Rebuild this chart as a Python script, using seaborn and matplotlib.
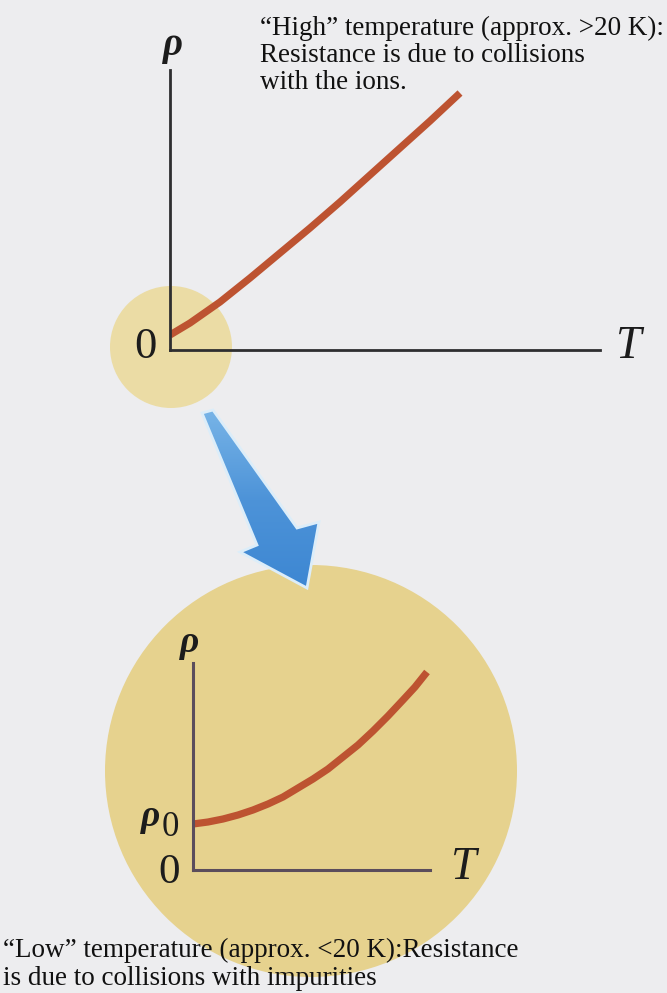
import matplotlib
matplotlib.use("Agg")
import matplotlib.pyplot as plt
from matplotlib.patches import Circle, Polygon
from matplotlib.colors import LinearSegmentedColormap
import numpy as np
import seaborn as sns
import pandas as pd

# Resistivity vs temperature, whole range (arbitrary units)
high_T = [0, 10, 20, 30, 40, 50, 60, 80, 110, 140, 170, 200, 230, 260, 290]
high_rho = [15, 21, 27, 34, 41, 48, 56, 72, 97, 122, 148, 175, 202, 229, 257]

# Low-temperature close-up: rho starts at the residual value rho_0
low_T = [0, 15, 30, 45, 60, 75, 90, 105, 120, 135, 150, 165, 180, 195, 210, 222, 234]
low_rho = [46, 48, 51, 55, 60, 66, 73, 82, 91, 101, 113, 125, 139, 154, 170, 183, 198]

top_text = ["\u201cHigh\u201d temperature (approx. >20 K):",
            "Resistance is due to collisions",
            "with the ions."]
bottom_text = ["\u201cLow\u201d temperature (approx. <20 K):Resistance",
               "is due to collisions with impurities"]

W, H = 667, 993
DPI = 100
BG = "#ededef"
CURVE = "#bd5331"
SERIF = ["Liberation Serif", "DejaVu Serif"]

sns.set_theme(style="white")
plt.rcParams["font.family"] = SERIF

fig = plt.figure(figsize=(W / DPI, H / DPI), dpi=DPI, facecolor=BG)

# Full-figure canvas in pixel units (y grows downward)
canvas = fig.add_axes([0, 0, 1, 1])
canvas.set_facecolor(BG)
canvas.axis("off")

# Highlight discs
canvas.add_patch(Circle((171, 347), 61, facecolor="#ebdca5", edgecolor="none", zorder=1))
canvas.add_patch(Circle((311, 771), 206, facecolor="#e6d28e", edgecolor="none", zorder=1))

# Zoom arrow, shaded from light at the tail to deeper blue at the head
arrow_pts = [(202, 413), (213, 410), (297, 528), (319, 522), (307, 588),
             (240, 552), (257, 545)]
clip = Polygon(arrow_pts, closed=True, transform=canvas.transData)
shade = LinearSegmentedColormap.from_list("arrow", ["#7ab6e8", "#4d93d8", "#3c86d2"])
grad = np.linspace(0, 1, 256).reshape(-1, 1)
img = canvas.imshow(grad, cmap=shade, extent=(195, 325, 595, 405), origin="upper",
                    aspect="auto", zorder=2, interpolation="bilinear")
img.set_clip_path(clip)
canvas.add_patch(Polygon(arrow_pts, closed=True, facecolor="none",
                         edgecolor="#dcedf9", linewidth=2.0, joinstyle="miter", zorder=3))

canvas.set_xlim(0, W)
canvas.set_ylim(H, 0)


def frame(left, bottom, right, top, color, lw):
    ax = fig.add_axes([left / W, 1 - bottom / H, (right - left) / W, (bottom - top) / H])
    ax.set_facecolor("none")
    ax.set_xlim(0, right - left)
    ax.set_ylim(0, bottom - top)
    for side in ("top", "right"):
        ax.spines[side].set_visible(False)
    for side in ("left", "bottom"):
        ax.spines[side].set_color(color)
        ax.spines[side].set_linewidth(lw)
    ax.set_xticks([])
    ax.set_yticks([])
    return ax


ax_top = frame(170, 350, 600, 70, "#2e2e30", 2.0)
sns.lineplot(data=pd.DataFrame({"T": high_T, "rho": high_rho}), x="T", y="rho",
             ax=ax_top, color=CURVE, linewidth=5.2, solid_capstyle="butt")
ax_top.set_xlabel("")
ax_top.set_ylabel("")

ax_low = frame(193, 870, 430, 663, "#5b4d5c", 2.2)
sns.lineplot(data=pd.DataFrame({"T": low_T, "rho": low_rho}), x="T", y="rho",
             ax=ax_low, color=CURVE, linewidth=5.2, solid_capstyle="butt")
ax_low.set_xlabel("")
ax_low.set_ylabel("")

# Axis symbols
sym = dict(family=SERIF, color="#1c1c1c", ha="center", va="center", zorder=5)
canvas.text(173, 45, "\u03c1", fontsize=28, style="italic", weight="bold", **sym)
canvas.text(145, 347, "0", fontsize=32, **sym)
canvas.text(629, 347, "T", fontsize=33, style="italic", **sym)

canvas.text(190, 642, "\u03c1", fontsize=27, style="italic", weight="bold", **sym)
canvas.text(151, 816, "\u03c1", fontsize=27, style="italic", weight="bold", **sym)
canvas.text(170, 827, "0", fontsize=25, **sym)
canvas.text(169, 873, "0", fontsize=31, **sym)
canvas.text(464, 868, "T", fontsize=33, style="italic", **sym)

# Captions
for i, line in enumerate(top_text):
    canvas.text(260, 35 + 27 * i, line, fontsize=19.5, family=SERIF, color="#111111",
                ha="left", va="baseline", zorder=5)
for i, line in enumerate(bottom_text):
    canvas.text(3, 957 + 28 * i, line, fontsize=19.5, family=SERIF, color="#111111",
                ha="left", va="baseline", zorder=5)

fig.savefig("out.png", dpi=DPI, facecolor=BG)
